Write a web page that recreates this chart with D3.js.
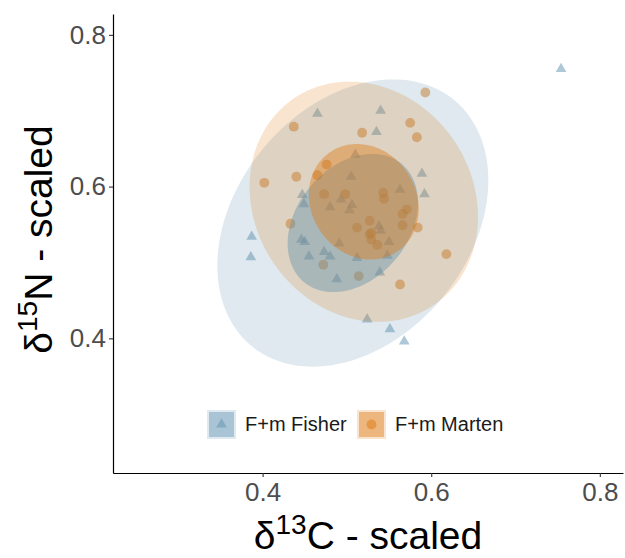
<!DOCTYPE html>
<html>
<head>
<meta charset="utf-8">
<script src="https://cdn.jsdelivr.net/npm/d3@7"></script>
<style>
  body { margin: 0; background: #fff; }
  svg { font-family: "Liberation Sans", Arial, sans-serif; }
</style>
</head>
<body>
<div id="chart"></div>
<script>
// scaled isotope values
var fisherX = [0.465, 0.540, 0.535, 0.510, 0.505, 0.589, 0.592, 0.563, 0.447, 0.449, 0.480, 0.493, 0.506, 0.503, 0.538, 0.540, 0.550,
    0.491, 0.387, 0.386, 0.446, 0.450, 0.455, 0.473, 0.480, 0.512, 0.548, 0.539, 0.488, 0.524, 0.551, 0.568, 0.754];
var fisherY = [0.696, 0.700, 0.672, 0.642, 0.613, 0.617, 0.590, 0.596, 0.589, 0.577, 0.573, 0.583, 0.576, 0.569, 0.548, 0.542, 0.527,
    0.525, 0.534, 0.507, 0.530, 0.527, 0.508, 0.514, 0.508, 0.506, 0.509, 0.487, 0.478, 0.425, 0.412, 0.396, 0.755];

var martenX = [0.593, 0.437, 0.518, 0.575, 0.583, 0.402, 0.440, 0.476, 0.465, 0.473, 0.498, 0.543, 0.544, 0.571, 0.566, 0.566,
    0.584, 0.527, 0.512, 0.529, 0.527, 0.529, 0.536, 0.433, 0.472, 0.514, 0.618, 0.563];
var martenY = [0.724, 0.679, 0.671, 0.684, 0.665, 0.605, 0.613, 0.629, 0.615, 0.590, 0.590, 0.592, 0.584, 0.570, 0.564, 0.549,
    0.546, 0.555, 0.546, 0.539, 0.537, 0.530, 0.523, 0.551, 0.497, 0.482, 0.511, 0.471];

// ellipse centre + covariance per group, and the two levels drawn (95% and 50%)
var groups = ["F+m Fisher", "F+m Marten"];
var ellCx = [0.507, 0.520];
var ellCy = [0.552, 0.580];
var ellSxx = [0.004312, 0.003063];
var ellSyy = [0.005982, 0.004183];
var ellSxy = [0.00151, -0.000444];
var ellLevels = [0.95, 0.5];

var xTicks = [0.4, 0.6, 0.8];
var yTicks = [0.4, 0.6, 0.8];
var axisDomain = [0.2225, 0.8275];

var colors = ["#5f91af", "#de7810"];
var ellAlpha = [0.2, 0.42];

var width = 625, height = 558;
var margin = { top: 14, right: 2, bottom: 85, left: 113 };

var svg = d3.select("#chart").append("svg")
    .attr("width", width)
    .attr("height", height);

var x = d3.scaleLinear().domain(axisDomain).range([margin.left, width - margin.right]);
var y = d3.scaleLinear().domain(axisDomain).range([height - margin.bottom, margin.top]);

var fisher = fisherX.map(function (d, i) { return { x: d, y: fisherY[i] }; });
var marten = martenX.map(function (d, i) { return { x: d, y: martenY[i] }; });

// points first, ellipses are painted over them
var triangle = d3.symbol().type(d3.symbolTriangle).size(50);
var circle = d3.symbol().type(d3.symbolCircle).size(76);

svg.append("g").selectAll("path")
    .data(fisher)
    .enter()
    .append("path")
    .attr("d", triangle)
    .attr("transform", function (d) { return "translate(" + x(d.x) + "," + y(d.y) + ")"; })
    .attr("fill", colors[0])
    .attr("fill-opacity", 0.5);

svg.append("g").selectAll("path")
    .data(marten)
    .enter()
    .append("path")
    .attr("d", circle)
    .attr("transform", function (d) { return "translate(" + x(d.x) + "," + y(d.y) + ")"; })
    .attr("fill", colors[1])
    .attr("fill-opacity", 0.5);

// ellipse outline from covariance (cholesky) scaled to a normal level
function ellipsePoints(g, level) {
    var r = Math.sqrt(-2 * Math.log(1 - level));
    var l11 = Math.sqrt(ellSxx[g]);
    var l21 = ellSxy[g] / l11;
    var l22 = Math.sqrt(ellSyy[g] - l21 * l21);
    return d3.range(0, 120).map(function (i) {
        var t = 2 * Math.PI * i / 120;
        return [ellCx[g] + r * l11 * Math.cos(t), ellCy[g] + r * (l21 * Math.cos(t) + l22 * Math.sin(t))];
    });
}

var line = d3.line()
    .x(function (d) { return x(d[0]); })
    .y(function (d) { return y(d[1]); })
    .curve(d3.curveLinearClosed);

ellLevels.forEach(function (lev, li) {
    groups.forEach(function (g, gi) {
        svg.append("path")
            .attr("d", line(ellipsePoints(gi, lev)))
            .attr("fill", colors[gi])
            .attr("fill-opacity", ellAlpha[li])
            .attr("stroke", "none");
    });
});

// axes
var xAxis = svg.append("g")
    .attr("transform", "translate(0," + (height - margin.bottom) + ")")
    .call(d3.axisBottom(x).tickValues(xTicks).tickSize(4).tickSizeOuter(0).tickPadding(6).tickFormat(d3.format(".1f")));

var yAxis = svg.append("g")
    .attr("transform", "translate(" + margin.left + ",0)")
    .call(d3.axisLeft(y).tickValues(yTicks).tickSize(4).tickSizeOuter(0).tickPadding(3).tickFormat(d3.format(".1f")));

[xAxis, yAxis].forEach(function (a) {
    a.select(".domain").attr("stroke", "#000").attr("stroke-width", 1.2);
    a.selectAll(".tick line").attr("stroke", "#333").attr("stroke-width", 1.1);
    a.selectAll(".tick text")
        .attr("fill", "#4d4d4d")
        .style("font-size", "26px")
        .style("font-family", "'Liberation Sans', Arial, sans-serif");
});

// axis titles
var xTitle = svg.append("text")
    .attr("x", (margin.left + width - margin.right) / 2)
    .attr("y", 549)
    .attr("text-anchor", "middle")
    .style("font-size", "39px")
    .attr("fill", "#000");
xTitle.append("tspan").text("δ");
xTitle.append("tspan").attr("dy", -15).style("font-size", "28px").text("13");
xTitle.append("tspan").attr("dy", 15).text("C - scaled");

var yTitle = svg.append("text")
    .attr("transform", "translate(52," + ((margin.top + height - margin.bottom) / 2 - 4) + ") rotate(-90)")
    .attr("text-anchor", "middle")
    .style("font-size", "39px")
    .attr("fill", "#000");
yTitle.append("tspan").text("δ");
yTitle.append("tspan").attr("dy", -15).style("font-size", "28px").text("15");
yTitle.append("tspan").attr("dy", 15).text("N - scaled");

// legend
var legendX = [207, 357];
var legend = svg.append("g");
groups.forEach(function (g, i) {
    var k = legend.append("g").attr("transform", "translate(" + legendX[i] + ",410)");
    k.append("rect").attr("width", 29).attr("height", 29)
        .attr("fill", colors[i]).attr("fill-opacity", ellAlpha[0]);
    k.append("rect").attr("x", 2).attr("y", 2).attr("width", 25).attr("height", 25)
        .attr("fill", colors[i]).attr("fill-opacity", ellAlpha[1]);
    k.append("path")
        .attr("d", i === 0 ? triangle() : circle())
        .attr("transform", "translate(14.5,14.5)")
        .attr("fill", colors[i])
        .attr("fill-opacity", 0.5);
    k.append("text")
        .attr("x", 38)
        .attr("y", 21)
        .style("font-size", "20px")
        .attr("fill", "#1a1a1a")
        .text(g);
});
</script>
</body>
</html>
